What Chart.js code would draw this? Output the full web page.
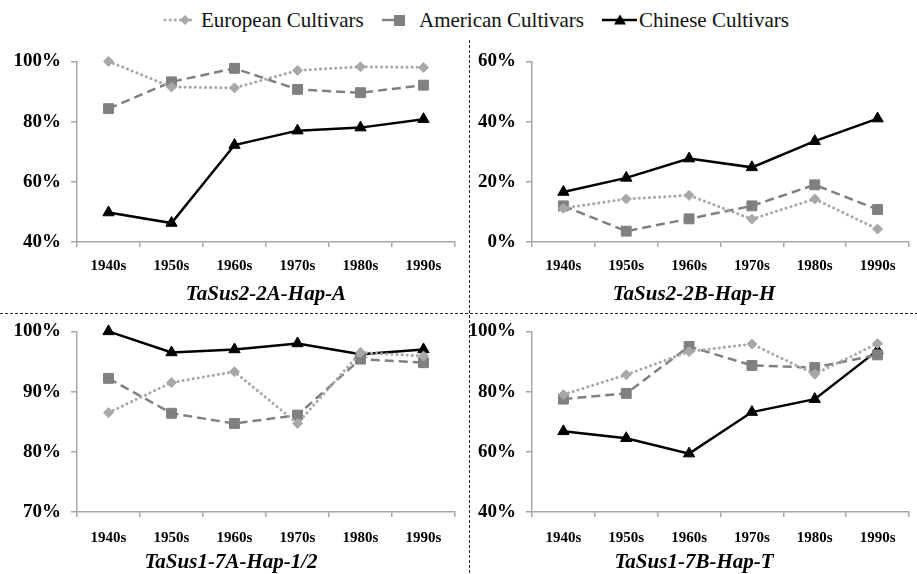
<!DOCTYPE html>
<html>
<head>
<meta charset="utf-8">
<script src="https://cdn.jsdelivr.net/npm/chart.js@4.4.1/dist/chart.umd.min.js"></script>
<style>
  html, body { margin: 0; padding: 0; background: #fff; }
  #page { position: relative; width: 917px; height: 574px; overflow: hidden; background: #fff;
          font-family: "Liberation Serif", "Times New Roman", serif; }
  .panel { position: absolute; }
  .vdiv { position: absolute; left: 469px; top: 40px; width: 1px; height: 534px;
          background: repeating-linear-gradient(to bottom, #222 0 3px, transparent 3px 5px); }
  .hdiv { position: absolute; left: 0; top: 313px; width: 917px; height: 1px;
          background: repeating-linear-gradient(to right, #222 0 3px, transparent 3px 5px); }
  #legend { position: absolute; left: 0; top: 6px; width: 917px; height: 28px; }
  .item { position: absolute; top: 0; height: 28px; display: flex; align-items: center;
          font-size: 21px; color: #111; white-space: nowrap; }
</style>
</head>
<body>
<div id="page">
  <div id="legend"></div>
  <canvas id="c1" class="panel" style="left:0;top:40px" width="470" height="270"></canvas>
  <canvas id="c2" class="panel" style="left:470px;top:40px" width="447" height="270"></canvas>
  <canvas id="c3" class="panel" style="left:0;top:310px" width="470" height="264"></canvas>
  <canvas id="c4" class="panel" style="left:470px;top:310px" width="447" height="264"></canvas>
  <div class="vdiv"></div>
  <div class="hdiv"></div>
</div>
<script>
// Decades on the x axis
const decades = ['1940s', '1950s', '1960s', '1970s', '1980s', '1990s'];
const seriesNames = ['European Cultivars', 'American Cultivars', 'Chinese Cultivars'];

// Haplotype frequency (%) per decade, one panel per haplotype
const titles = ['TaSus2-2A-Hap-A', 'TaSus2-2B-Hap-H', 'TaSus1-7A-Hap-1/2', 'TaSus1-7B-Hap-T'];

const european2A = [100, 91.5, 91.2, 97.0, 98.2, 98.0];
const american2A = [84.3, 93.2, 97.7, 90.7, 89.6, 92.1];
const chinese2A  = [49.8, 46.3, 72.2, 77.0, 78.0, 80.8];

const european2B = [11.2, 14.3, 15.5, 7.6, 14.3, 4.3];
const american2B = [12.0, 3.6, 7.7, 12.0, 19.0, 10.8];
const chinese2B  = [16.6, 21.3, 27.7, 24.8, 33.5, 41.0];

const european7A = [86.5, 91.5, 93.3, 84.7, 96.5, 95.9];
const american7A = [92.2, 86.4, 84.7, 86.1, 95.4, 94.8];
const chinese7A  = [100, 96.5, 97.0, 98.0, 96.2, 97.0];

const european7B = [79.0, 85.6, 93.3, 95.8, 85.8, 96.0];
const american7B = [77.5, 79.4, 95.0, 88.7, 88.0, 92.2];
const chinese7B  = [66.8, 64.5, 59.4, 73.2, 77.5, 93.7];

// Y ranges per panel: [min, max, step]
const yRanges = [[40, 100, 20], [0, 60, 20], [70, 100, 10], [40, 100, 20]];

const FONT = '"Liberation Serif", "Times New Roman", serif';
const AXIS = '#a6a6a6';

const styles = [
  { color: '#a8a8a8', width: 3, dash: [0.1, 5], cap: 'round', point: 'rectRot', radius: 5 },
  { color: '#808080', width: 2.5, dash: [9, 5], cap: 'butt', point: 'rect', radius: 7 },
  { color: '#000000', width: 2.5, dash: [], cap: 'butt', point: 'triangle', radius: 6.5 }
];

// Panel caption drawn under the x axis at a given centre
const captionPlugin = {
  id: 'caption',
  afterDraw(chart, args, opts) {
    const ctx = chart.ctx;
    ctx.save();
    ctx.font = 'italic bold 21px ' + FONT;
    ctx.fillStyle = '#000';
    ctx.textAlign = 'center';
    ctx.textBaseline = 'middle';
    ctx.fillText(opts.text, opts.x, opts.y);
    ctx.restore();
  }
};

function makeDatasets(values) {
  return values.map((v, i) => ({
    label: seriesNames[i],
    data: v,
    borderColor: styles[i].color,
    backgroundColor: styles[i].color,
    borderWidth: styles[i].width,
    borderDash: styles[i].dash,
    borderCapStyle: styles[i].cap,
    pointStyle: styles[i].point,
    pointRadius: styles[i].radius,
    pointBorderWidth: 1,
    pointBackgroundColor: styles[i].color,
    pointBorderColor: styles[i].color,
    tension: 0,
    clip: false
  }));
}

function makeChart(id, title, values, range, geom) {
  const [ymin, ymax, step] = range;
  return new Chart(document.getElementById(id), {
    type: 'line',
    data: { labels: decades, datasets: makeDatasets(values) },
    plugins: [captionPlugin],
    options: {
      responsive: false,
      animation: false,
      devicePixelRatio: 1,
      layout: { padding: { left: 0, right: geom.right, top: 20, bottom: geom.bottom } },
      plugins: {
        legend: { display: false },
        tooltip: { enabled: false },
        title: { display: false },
        caption: { text: title, x: geom.titleX, y: geom.titleY }
      },
      scales: {
        x: {
          offset: true,
          grid: { offset: true, drawOnChartArea: false, tickLength: 5, color: AXIS, lineWidth: 1.5 },
          border: { color: AXIS, width: 1.5 },
          ticks: { color: '#000', padding: geom.xPad, maxRotation: 0,
                   font: { family: FONT, size: 15, weight: 'bold' } },
          afterFit: s => { s.height = geom.xH; }
        },
        y: {
          min: ymin, max: ymax,
          grid: { drawOnChartArea: false, tickLength: 6, color: AXIS, lineWidth: 1.5 },
          border: { color: AXIS, width: 1.5 },
          ticks: { stepSize: step, color: '#000', padding: 10,
                   font: { family: FONT, size: 19, weight: 'bold' },
                   callback: v => v + '%' },
          afterFit: s => { s.width = geom.yW; }
        }
      }
    }
  });
}

const geoms = [
  { right: 15, yW: 77, xH: 38, xPad: 10, bottom: 30, titleX: 266, titleY: 255 },
  { right: 0,  yW: 62, xH: 38, xPad: 10, bottom: 30, titleX: 224, titleY: 255 },
  { right: 15, yW: 77, xH: 38, xPad: 12, bottom: 24, titleX: 231, titleY: 253 },
  { right: 0,  yW: 62, xH: 38, xPad: 12, bottom: 24, titleX: 224, titleY: 253 }
];

makeChart('c1', titles[0], [european2A, american2A, chinese2A], yRanges[0], geoms[0]);
makeChart('c2', titles[1], [european2B, american2B, chinese2B], yRanges[1], geoms[1]);
makeChart('c3', titles[2], [european7A, american7A, chinese7A], yRanges[2], geoms[2]);
makeChart('c4', titles[3], [european7B, american7B, chinese7B], yRanges[3], geoms[3]);

// Legend built from the same series styles
const legendLeft = [163, 382, 602];
const markers = [
  '<svg width="38" height="14"><line x1="2" y1="7" x2="32" y2="7" stroke="#a8a8a8" stroke-width="3" stroke-dasharray="0.1 5" stroke-linecap="round"/><polygon points="22,2 27,7 22,12 17,7" fill="#a8a8a8"/></svg>',
  '<svg width="37" height="14"><line x1="0" y1="7" x2="14" y2="7" stroke="#808080" stroke-width="2.5"/><rect x="12" y="2" width="11" height="11" fill="#808080"/></svg>',
  '<svg width="37" height="14"><line x1="0" y1="7" x2="35" y2="7" stroke="#000" stroke-width="2.5"/><polygon points="18,1.5 24,11.5 12,11.5" fill="#000"/></svg>'
];
document.getElementById('legend').innerHTML = seriesNames.map((n, i) =>
  '<div class="item" style="left:' + legendLeft[i] + 'px">' + markers[i] + '<span>' + n + '</span></div>').join('');
</script>
</body>
</html>
